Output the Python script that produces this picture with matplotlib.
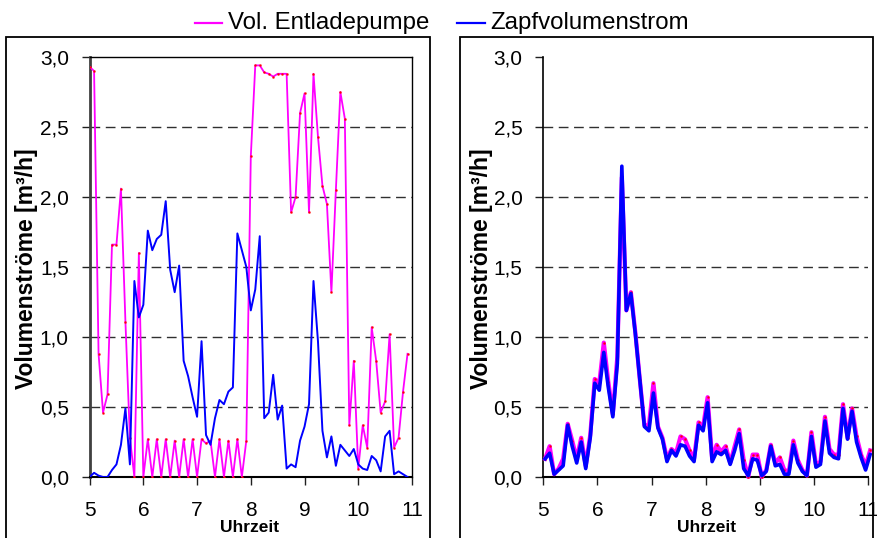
import numpy as np
import matplotlib
matplotlib.use("Agg")
import matplotlib.pyplot as plt
from matplotlib.lines import Line2D
from matplotlib.patches import Rectangle
from matplotlib.ticker import FixedLocator, FuncFormatter

plt.rcParams['font.family'] = ['Liberation Sans', 'DejaVu Sans']

# ---------------- data ----------------
# left panel: 5-minute values from 5:00 to 10:55
left_start_min = 300
pumpe_left = [2.93, 2.90, 0.88, 0.46, 0.59, 1.66, 1.66, 2.06, 1.11, 0.28,
              0.00, 1.60, 0.00, 0.27, 0.00, 0.27, 0.00, 0.27, 0.00, 0.26,
              0.00, 0.27, 0.00, 0.27, 0.00, 0.27, 0.24, 0.26, 0.00, 0.27,
              0.00, 0.26, 0.00, 0.27, 0.00, 0.26, 2.29, 2.94, 2.94, 2.89,
              2.88, 2.86, 2.88, 2.88, 2.88, 1.89, 2.00, 2.60, 2.74, 1.89,
              2.88, 2.43, 2.08, 1.95, 1.32, 2.05, 2.75, 2.56, 0.37, 0.83,
              0.06, 0.37, 0.21, 1.07, 0.83, 0.46, 0.54, 1.02, 0.21, 0.28,
              0.61, 0.88]
zapf_left = [0.00, 0.03, 0.01, 0.00, 0.00, 0.05, 0.09, 0.23, 0.49, 0.09,
             1.40, 1.14, 1.23, 1.76, 1.62, 1.70, 1.73, 1.97, 1.48, 1.32,
             1.51, 0.83, 0.72, 0.57, 0.43, 0.97, 0.30, 0.23, 0.42, 0.55,
             0.52, 0.61, 0.64, 1.74, 1.62, 1.50, 1.19, 1.34, 1.72, 0.42,
             0.46, 0.73, 0.41, 0.51, 0.06, 0.09, 0.07, 0.26, 0.36, 0.52,
             1.40, 0.97, 0.33, 0.14, 0.29, 0.08, 0.23, 0.19, 0.15, 0.20,
             0.09, 0.06, 0.05, 0.15, 0.12, 0.04, 0.29, 0.33, 0.02, 0.04,
             0.02, 0.00]

# right panel: 5-minute values from 5:02 to 11:02
right_start_min = 302
pumpe_right = [0.13, 0.22, 0.02, 0.06, 0.13, 0.38, 0.26, 0.13, 0.28, 0.08,
               0.30, 0.70, 0.67, 0.96, 0.68, 0.45, 0.86, 2.14, 1.19, 1.32,
               1.03, 0.69, 0.37, 0.37, 0.67, 0.36, 0.28, 0.13, 0.20, 0.17,
               0.29, 0.27, 0.19, 0.13, 0.39, 0.36, 0.57, 0.13, 0.23, 0.18,
               0.22, 0.10, 0.22, 0.34, 0.12, 0.00, 0.16, 0.16, 0.00, 0.05,
               0.23, 0.10, 0.14, 0.05, 0.04, 0.26, 0.12, 0.05, 0.01, 0.32,
               0.09, 0.11, 0.43, 0.20, 0.16, 0.16, 0.52, 0.28, 0.49, 0.29,
               0.16, 0.08, 0.19]
zapf_right = [0.13, 0.17, 0.02, 0.05, 0.08, 0.37, 0.22, 0.10, 0.25, 0.06,
              0.28, 0.67, 0.62, 0.89, 0.64, 0.43, 0.81, 2.22, 1.19, 1.31,
              1.02, 0.69, 0.36, 0.33, 0.60, 0.35, 0.27, 0.11, 0.19, 0.15,
              0.23, 0.22, 0.15, 0.11, 0.37, 0.33, 0.53, 0.11, 0.18, 0.16,
              0.19, 0.09, 0.19, 0.31, 0.06, 0.01, 0.13, 0.12, 0.01, 0.04,
              0.22, 0.08, 0.09, 0.02, 0.02, 0.23, 0.10, 0.04, 0.01, 0.29,
              0.07, 0.09, 0.40, 0.17, 0.14, 0.13, 0.49, 0.27, 0.47, 0.25,
              0.14, 0.05, 0.16]

x_ticks = [5, 6, 7, 8, 9, 10, 11]
y_ticks = [0.0, 0.5, 1.0, 1.5, 2.0, 2.5, 3.0]
series_names = ["Vol. Entladepumpe", "Zapfvolumenstrom"]
x_label = "Uhrzeit"
y_label = "Volumenströme [m³/h]"

t_left = (left_start_min + 5 * np.arange(len(pumpe_left))) / 60.0
t_right = (right_start_min + 5 * np.arange(len(pumpe_right))) / 60.0

PINK = "#FF00FF"
BLUE = "#0000FF"
W, H = 878, 538

fig = plt.figure(figsize=(W / 100, H / 100), dpi=100)


def fx(px):
    return px / W


def fy(py):
    return 1 - py / H


def style_axes(ax, thick_left):
    ax.set_xlim(5, 11)
    ax.set_ylim(0, 3.0)
    ax.xaxis.set_major_locator(FixedLocator(x_ticks))
    ax.yaxis.set_major_locator(FixedLocator(y_ticks))
    ax.yaxis.set_major_formatter(FuncFormatter(lambda v, p: f"{v:.1f}".replace(".", ",")))
    ax.xaxis.set_major_formatter(FuncFormatter(lambda v, p: f"{int(round(v))}"))
    ax.tick_params(axis='both', direction='out', length=6, width=1.0,
                   labelsize=15, color='#202020')
    ax.tick_params(axis='y', pad=9)
    ax.tick_params(axis='x', pad=11)
    for v in y_ticks[1:-1]:
        ax.axhline(v, color='#303030', lw=1.0, dashes=(7, 4), zorder=1)
    ax.spines['bottom'].set_linewidth(1.5)
    ax.spines['bottom'].set_color('black')
    if thick_left:
        ax.spines['left'].set_linewidth(2.0)
        ax.spines['left'].set_color('#404040')
    else:
        ax.spines['left'].set_linewidth(1.2)
        ax.spines['left'].set_color('black')
    ax.spines['left'].set_zorder(2)
    ax.spines['top'].set_linewidth(1.0)
    ax.spines['right'].set_linewidth(1.0)


# left panel
axL = fig.add_axes([fx(89.6), fy(477), fx(412) - fx(89.6), fy(57) - fy(477)])
style_axes(axL, True)
axL.plot(t_left, pumpe_left, color=PINK, lw=1.3, zorder=3,
         marker='s', markersize=1.0, mfc='red', mec='red', mew=0.5)
axL.plot(t_left, zapf_left, color=BLUE, lw=1.4, zorder=4)

# right panel
axR = fig.add_axes([fx(543.3), fy(477), fx(868.3) - fx(543.3), fy(57) - fy(477)])
style_axes(axR, False)
axR.spines['top'].set_visible(False)
axR.spines['right'].set_visible(False)
axR.plot(t_right, pumpe_right, color=PINK, lw=3.0, zorder=3, clip_on=False,
         marker='s', markersize=1.0, mfc='red', mec='red', mew=0.5)
axR.plot(t_right, zapf_right, color=BLUE, lw=2.6, zorder=4, clip_on=False)

# axis labels
for cx, ylx in ((250, 27), (707, 482)):
    fig.text(fx(cx), fy(527), x_label, ha='center', va='center',
             fontsize=12.5, fontweight='bold')
    fig.text(fx(ylx), fy(269), y_label, ha='center', va='center',
             rotation=90, fontsize=16.5, fontweight='bold')

# panel frames
fig.add_artist(Rectangle((fx(6), fy(560)), fx(430) - fx(6), fy(37) - fy(560),
                         transform=fig.transFigure, fill=False, ec='black', lw=1.3))
fig.add_artist(Rectangle((fx(460), fy(560)), fx(873) - fx(460), fy(37) - fy(560),
                         transform=fig.transFigure, fill=False, ec='black', lw=1.3))

# legend
fig.add_artist(Line2D([fx(195), fx(222)], [fy(23), fy(23)], color=PINK, lw=1.6,
                      transform=fig.transFigure))
fig.text(fx(228), fy(23), series_names[0], ha='left', va='center', fontsize=17.3)
fig.add_artist(Line2D([fx(457), fx(485)], [fy(23), fy(23)], color=BLUE, lw=1.6,
                      transform=fig.transFigure))
fig.text(fx(490), fy(23), series_names[1], ha='left', va='center', fontsize=17.3)

fig.savefig("out.png", dpi=100)
